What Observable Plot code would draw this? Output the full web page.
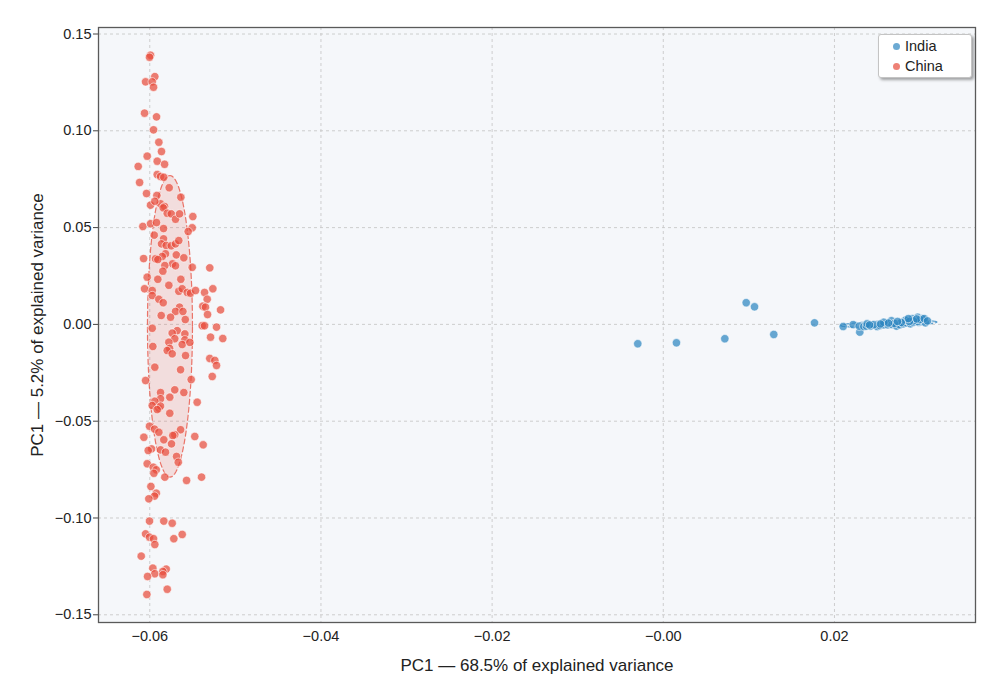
<!DOCTYPE html>
<html><head><meta charset="utf-8">
<script src="https://cdn.jsdelivr.net/npm/d3@7"></script>
<script src="https://cdn.jsdelivr.net/npm/@observablehq/plot@0.6"></script>
<style>
body{margin:0;background:#fff;font-family:"Liberation Sans",Arial,sans-serif;}
#wrap{position:relative;width:990px;height:683px;}
.legend{position:absolute;left:878px;top:34px;width:94px;height:44px;background:#fff;border:1px solid #c4c4c4;border-radius:3px;box-shadow:2px 2px 3px rgba(0,0,0,0.35);box-sizing:border-box;font-size:14.5px;color:#222;padding-top:1px;}
.legend .row{display:flex;align-items:center;height:20px;padding-left:14px;}
.legend .dot{width:7px;height:7px;border-radius:50%;margin-right:5px;}
</style></head><body><div id="wrap"></div>
<script>
// ---- data ----
const chinaX = [-0.05991,-0.06003,-0.05941,-0.06049,-0.05971,-0.05956,-0.06061,-0.05921,-0.05956,-0.05894,
-0.05863,-0.06030,-0.05913,-0.05827,-0.06135,-0.05913,-0.05874,-0.05836,-0.06119,-0.05773,
-0.06038,-0.05917,-0.05637,-0.05991,-0.05874,-0.05827,-0.05941,-0.05843,-0.05796,-0.05749,
-0.05699,-0.05652,-0.05497,-0.06081,-0.05991,-0.05921,-0.05839,-0.05504,-0.05551,-0.05948,
-0.05839,-0.05863,-0.05808,-0.05749,-0.05699,-0.05661,-0.05816,-0.05854,-0.05690,-0.06072,
-0.05933,-0.05906,-0.05602,-0.05734,-0.05699,-0.05824,-0.05847,-0.05504,-0.05299,-0.06030,
-0.05906,-0.05637,-0.06061,-0.05971,-0.05777,-0.05661,-0.05621,-0.05562,-0.05524,-0.05465,
-0.05360,-0.05263,-0.05971,-0.05894,-0.05843,-0.05329,-0.05380,-0.05349,-0.05652,-0.05699,
-0.05613,-0.05173,-0.05866,-0.05757,-0.05325,-0.05585,-0.05971,-0.05387,-0.05360,-0.05220,
-0.05679,-0.05590,-0.05738,-0.05290,-0.05147,-0.05708,-0.05590,-0.05777,-0.05621,-0.05532,
-0.05964,-0.05768,-0.05796,-0.05738,-0.05582,-0.05299,-0.05240,-0.05220,-0.05941,-0.05640,
-0.05270,-0.05516,-0.06049,-0.05708,-0.05874,-0.05602,-0.05766,-0.05874,-0.05941,-0.05446,
-0.05971,-0.05894,-0.05874,-0.05913,-0.05766,-0.06003,-0.05944,-0.05894,-0.05640,-0.05708,
-0.05731,-0.05474,-0.06069,-0.05836,-0.05746,-0.05376,-0.05979,-0.06018,-0.05874,-0.05816,
-0.05687,-0.05667,-0.06030,-0.05959,-0.05924,-0.05952,-0.05824,-0.05570,-0.05395,-0.05987,
-0.05924,-0.05944,-0.06011,-0.06003,-0.05836,-0.05738,-0.06049,-0.06003,-0.05956,-0.05941,
-0.05621,-0.05719,-0.06100,-0.05964,-0.05808,-0.05941,-0.05847,-0.05847,-0.06026,-0.05796,
-0.06034];
const chinaY = [0.1390,0.1380,0.1280,0.1253,0.1253,0.1225,0.1091,0.1072,0.1005,0.0941,
0.0893,0.0869,0.0843,0.0827,0.0816,0.0774,0.0764,0.0760,0.0733,0.0706,
0.0676,0.0666,0.0657,0.0616,0.0623,0.0609,0.0636,0.0602,0.0574,0.0571,
0.0543,0.0571,0.0557,0.0506,0.0520,0.0526,0.0495,0.0499,0.0480,0.0461,
0.0442,0.0416,0.0408,0.0406,0.0416,0.0433,0.0365,0.0351,0.0359,0.0340,
0.0339,0.0335,0.0344,0.0313,0.0303,0.0304,0.0275,0.0295,0.0292,0.0244,
0.0233,0.0233,0.0184,0.0175,0.0202,0.0171,0.0184,0.0165,0.0161,0.0175,
0.0165,0.0184,0.0149,0.0130,0.0112,0.0130,0.0094,0.0089,0.0089,0.0067,
0.0067,0.0075,0.0046,0.0037,0.0051,0.0025,-0.0020,-0.0007,-0.0007,-0.0014,
-0.0032,-0.0049,-0.0045,-0.0066,-0.0073,-0.0074,-0.0080,-0.0092,-0.0104,-0.0093,
-0.0114,-0.0124,-0.0135,-0.0152,-0.0161,-0.0176,-0.0186,-0.0212,-0.0221,-0.0234,
-0.0269,-0.0285,-0.0290,-0.0338,-0.0352,-0.0352,-0.0376,-0.0384,-0.0397,-0.0402,
-0.0419,-0.0433,-0.0422,-0.0440,-0.0459,-0.0526,-0.0541,-0.0557,-0.0544,-0.0570,
-0.0574,-0.0579,-0.0583,-0.0596,-0.0617,-0.0622,-0.0643,-0.0651,-0.0648,-0.0660,
-0.0682,-0.0712,-0.0720,-0.0738,-0.0751,-0.0769,-0.0789,-0.0806,-0.0789,-0.0837,
-0.0872,-0.0887,-0.0901,-0.1016,-0.1016,-0.1027,-0.1082,-0.1099,-0.1107,-0.1137,
-0.1085,-0.1107,-0.1197,-0.1259,-0.1264,-0.1288,-0.1276,-0.1293,-0.1302,-0.1368,
-0.1395];
const indiaX = [-0.00298,0.00154,0.00719,0.00969,0.01066,0.01291,0.01767,0.02102,0.02219,0.02296,
0.02289,0.02343,0.02374,0.02421,0.02499,0.02530,0.02576,0.02623,0.02666,0.02674,
0.02725,0.02763,0.02803,0.02841,0.02857,0.02888,0.02920,0.02947,0.02973,0.02985,
0.03013,0.03044,0.03063,0.03025,0.02908,0.02830,0.02576,0.02459,0.02382,0.02973,
0.02997,0.02923,0.02876,0.02781,0.02700,0.02631,0.02538,0.02410,0.02961,0.03049,
0.03087,0.02864,0.02737];
const indiaY = [-0.0100,-0.0095,-0.0074,0.0112,0.0091,-0.0052,0.0008,-0.0011,-0.0001,-0.0040,
-0.0009,-0.0011,-0.0009,-0.0009,-0.0011,-0.0006,-0.0002,-0.0002,0.0019,-0.0001,
-0.0009,-0.0002,0.0003,0.0008,0.0019,0.0003,0.0011,0.0020,0.0037,0.0011,
0.0015,0.0020,0.0008,0.0029,0.0029,0.0022,0.0011,-0.0002,0.0003,0.0015,
0.0025,0.0018,0.0015,0.0010,0.0005,0.0007,0.0002,-0.0003,0.0028,0.0030,
0.0018,0.0030,0.0015];
const groups = ["India", "China"];
const groupColors = ["#2e86c1", "#e74c3c"];
// confidence ellipses (data units): centre, semi-axes, rotation in degrees
const ellipseCx = [0.02635, -0.05764];
const ellipseCy = [0.0003, -0.0010];
const ellipseRx = [0.00570, 0.00263];
const ellipseRy = [0.0015, 0.0779];
const ellipseAngle = [10, 0];
const xTicks = [-0.06, -0.04, -0.02, 0, 0.02];
const xTickLabels = ["−0.06", "−0.04", "−0.02", "−0.00", "0.02"];
const yTicks = [0.15, 0.10, 0.05, 0, -0.05, -0.10, -0.15];
const yTickLabels = ["0.15", "0.10", "0.05", "0.00", "−0.05", "−0.10", "−0.15"];
const xLabel = "PC1 — 68.5% of explained variance";
const yLabel = "PC1 — 5.2% of explained variance";

// ---- build tables ----
const points = [
  ...chinaX.map((x, i) => ({x, y: chinaY[i], group: "China"})),
  ...indiaX.map((x, i) => ({x, y: indiaY[i], group: "India"}))
];
const ellipsePts = [];
groups.forEach((g, k) => {
  const a = ellipseAngle[k] * Math.PI / 180;
  for (let t = 0; t <= 360; t += 3) {
    const r = t * Math.PI / 180;
    const ex = ellipseRx[k] * Math.cos(r), ey = ellipseRy[k] * Math.sin(r);
    ellipsePts.push({group: g,
      x: ellipseCx[k] + ex * Math.cos(a) - ey * Math.sin(a),
      y: ellipseCy[k] + ex * Math.sin(a) + ey * Math.cos(a)});
  }
});

const color = {domain: groups, range: groupColors};
const chart = Plot.plot({
  width: 990, height: 683,
  marginLeft: 98, marginRight: 15, marginTop: 27, marginBottom: 61,
  style: {fontFamily: "'Liberation Sans', Arial, sans-serif", background: "#fff", color: "#222"},
  x: {domain: [-0.06599, 0.03648]},
  y: {domain: [-0.15398, 0.15336]},
  color,
  marks: [
    Plot.frame({fill: "#f5f7fa", stroke: null}),
    Plot.gridX(xTicks, {stroke: "#c8c8c8", strokeOpacity: 1, strokeDasharray: "3,3", strokeWidth: 0.9}),
    Plot.gridY(yTicks, {stroke: "#c8c8c8", strokeOpacity: 1, strokeDasharray: "3,3", strokeWidth: 0.9}),
    Plot.line(ellipsePts, {x: "x", y: "y", z: "group", fill: "group", fillOpacity: 0.15,
      stroke: "group", strokeOpacity: 0.75, strokeWidth: 1.2, strokeDasharray: "5,3", curve: "linear-closed"}),
    Plot.dot(points, {x: "x", y: "y", fill: "group", fillOpacity: 0.72, r: 4.2,
      stroke: "white", strokeWidth: 0.7, strokeOpacity: 0.85}),
    Plot.axisX(xTicks, {tickFormat: d => xTickLabels[xTicks.indexOf(d)], tickSize: 0, tickPadding: 8,
      fontSize: 14.5, label: null}),
    Plot.axisY(yTicks, {tickFormat: d => yTickLabels[yTicks.indexOf(d)], tickSize: 5, tickPadding: 2,
      fontSize: 14.5, label: null, stroke: "#444"}),
    Plot.text([xLabel], {frameAnchor: "bottom", dy: 48, fontSize: 17, fill: "#222", textAnchor: "middle"}),
    Plot.text([yLabel], {frameAnchor: "left", dx: -61, rotate: -90, fontSize: 17, fill: "#222", textAnchor: "middle"}),
    Plot.frame({stroke: "#5a5a5a", strokeWidth: 1.3})
  ]
});
const wrap = document.getElementById("wrap");
wrap.appendChild(chart);
const legend = document.createElement("div");
legend.className = "legend";
groups.forEach((g, k) => {
  const row = document.createElement("div");
  row.className = "row";
  const dot = document.createElement("span");
  dot.className = "dot";
  dot.style.background = groupColors[k];
  dot.style.opacity = 0.7;
  row.appendChild(dot);
  row.appendChild(document.createTextNode(g));
  legend.appendChild(row);
});
wrap.appendChild(legend);
</script></body></html>
